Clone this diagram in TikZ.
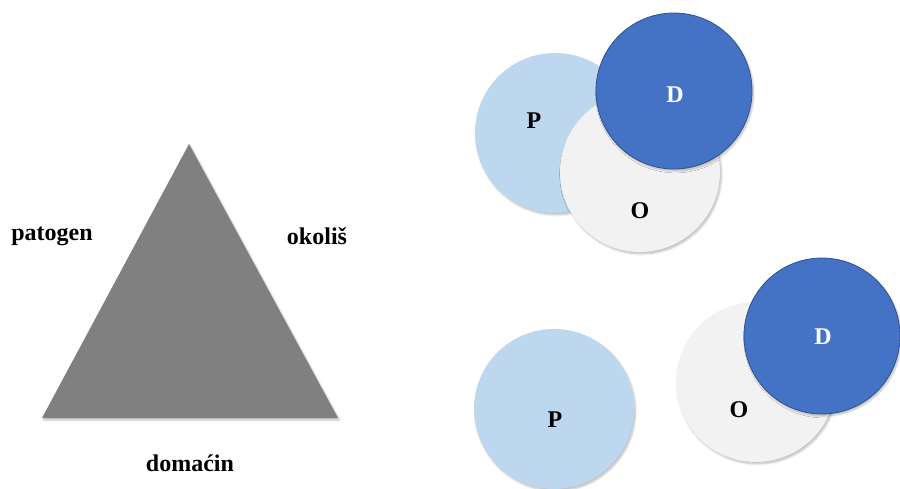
\documentclass[tikz,border=0pt]{standalone}
\usepackage{fontspec}
\setmainfont{Liberation Serif}
\usetikzlibrary{shadows.blur}
\definecolor{patblue}{HTML}{BDD7EE}
\definecolor{okogray}{HTML}{F2F2F2}
\definecolor{domblue}{HTML}{4472C4}
\definecolor{domedge}{HTML}{2F528F}
\definecolor{trigray}{HTML}{808080}
\tikzset{
  softshadow/.style={blur shadow={shadow xshift=1.5pt, shadow yshift=-2pt, shadow blur steps=6, shadow opacity=25}},
  disk/.style={circle, inner sep=0pt, minimum size=#1, softshadow},
  disk/.default=160pt,
  pdisk/.style={disk, fill=patblue},
  odisk/.style={disk, fill=okogray},
  ddisk/.style={disk=156pt, fill=domblue, draw=domedge, line width=0.8pt},
  letter/.style={font=\bfseries\fontsize{24}{24}\selectfont},
  word/.style={font=\bfseries\fontsize{24}{24}\selectfont}
}

\begin{document}
\begin{tikzpicture}[x=1pt,y=-1pt]
  %%%%% START %%%%%
  \useasboundingbox (0,0) rectangle (900,489);

  % triangle
  \coordinate (top) at (189,144);
  \coordinate (left) at (42,418);
  \coordinate (right) at (338,418);
  \fill[trigray, softshadow] (top) -- (right) -- (left) -- cycle;

  \node[word] (patogen) at (52,236) {patogen};
  \node[word] (okolis) at (317,236) {okoliš};
  \node[word] (domacin) at (190,463) {domaćin};

  % upper group
  \node[pdisk] (p1) at (555,133) {};
  \node[odisk] (o1) at (640,172) {};
  \node[ddisk] (d1) at (674,91) {};
  \node[letter] (p1t) at (534,121) {P};
  \node[letter] (o1t) at (640,211) {O};
  \node[letter, text=white] (d1t) at (675,95) {D};

  % lower group
  \node[pdisk] (p2) at (554,409) {};
  \node[odisk] (o2) at (756,382) {};
  \node[ddisk] (d2) at (822,336) {};
  \node[letter] (p2t) at (555,420) {P};
  \node[letter] (o2t) at (739,410) {O};
  \node[letter, text=white] (d2t) at (823,337) {D};
  %%%%% END %%%%%
\end{tikzpicture}
\end{document}
